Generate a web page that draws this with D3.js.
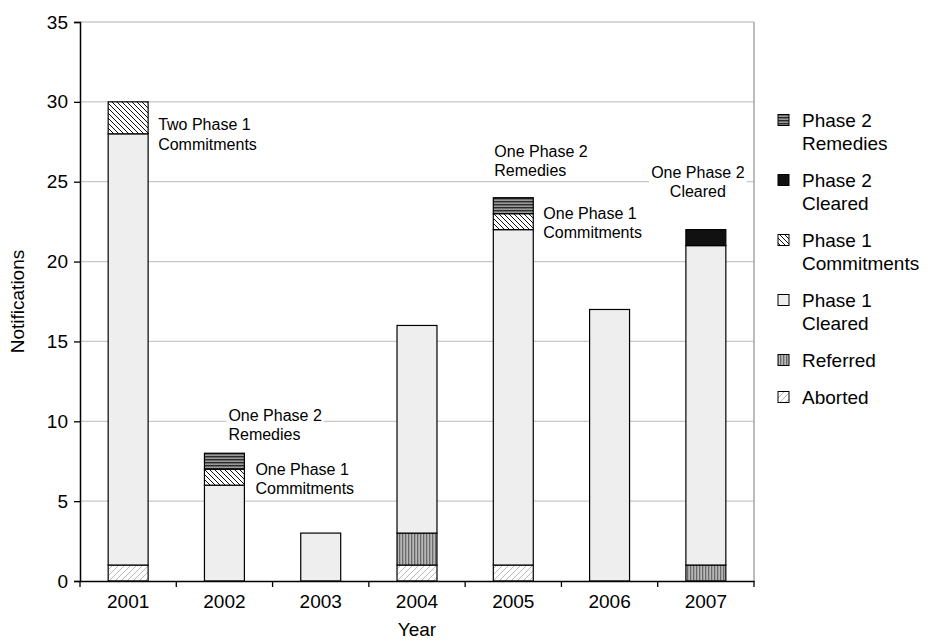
<!DOCTYPE html>
<html><head><meta charset="utf-8">
<script src="https://cdn.jsdelivr.net/npm/d3@7"></script>
<style>
body{margin:0;background:#fff;}
svg{font-family:"Liberation Sans",Arial,Helvetica,sans-serif;}
</style></head>
<body><svg id="c" width="934" height="641"></svg>
<script>
const years = ["2001","2002","2003","2004","2005","2006","2007"];
const aborted    = [1,0,0,1,1,0,0];
const referred   = [0,0,0,2,0,0,1];
const p1Cleared  = [27,6,3,13,21,17,20];
const p1Commit   = [2,1,0,0,1,0,0];
const p2Cleared  = [0,0,0,0,0,0,1];
const p2Remedies = [0,1,0,0,1,0,0];
const seriesNames = ["Aborted","Referred","Phase 1 Cleared","Phase 1 Commitments","Phase 2 Cleared","Phase 2 Remedies"];
const legendNames = [["Phase 2","Remedies"],["Phase 2","Cleared"],["Phase 1","Commitments"],["Phase 1","Cleared"],["Referred"],["Aborted"]];
const yTicks = [0,5,10,15,20,25,30,35];
const annotYears  = ["2001","2002","2002","2005","2005","2007"];
const annotValues = [30,8,7,24,23,22];
const annotLines  = [["Two Phase 1","Commitments"],["One Phase 2","Remedies"],["One Phase 1","Commitments"],
                     ["One Phase 2","Remedies"],["One Phase 1","Commitments"],["One Phase 2","Cleared"]];

const seriesData = [aborted,referred,p1Cleared,p1Commit,p2Cleared,p2Remedies];
const rows = years.map((y,i)=>{const o={year:y}; seriesNames.forEach((s,k)=>o[s]=seriesData[k][i]); return o;});

const svg = d3.select("#c");
const m = {left:80, right:754, top:22, bottom:581};
const x = d3.scaleBand().domain(years).range([m.left,m.right]).padding(0);
const y = d3.scaleLinear().domain([0,35]).range([m.bottom,m.top]);
const barW = x.bandwidth()*0.415;

// patterns
const defs = svg.append("defs");
function pat(id, size, bg, draw){
  const p = defs.append("pattern").attr("id",id).attr("patternUnits","userSpaceOnUse").attr("width",size).attr("height",size);
  p.append("rect").attr("width",size).attr("height",size).attr("fill",bg);
  draw(p);
}
pat("pAborted",6,"#ffffff",p=>{
  p.append("path").attr("d","M-1,7 L7,-1 M-4,4 L4,-4 M2,10 L10,2").attr("stroke","#b0b0b0").attr("stroke-width",0.9);
});
pat("pReferred",3,"#b8b8b8",p=>{
  p.append("rect").attr("x",0).attr("y",0).attr("width",1.3).attr("height",3).attr("fill","#6a6a6a");
});
pat("pCommit",5,"#ffffff",p=>{
  p.append("path").attr("d","M-1,-1 L6,6 M-1,4 L1,6 M4,-1 L6,1").attr("stroke","#111").attr("stroke-width",1);
});
pat("pRemedies",3,"#9a9a9a",p=>{
  p.append("rect").attr("x",0).attr("y",0).attr("width",3).attr("height",1.4).attr("fill","#2a2a2a");
});
const fills = {"Aborted":"url(#pAborted)","Referred":"url(#pReferred)","Phase 1 Cleared":"#eeeeee",
  "Phase 1 Commitments":"url(#pCommit)","Phase 2 Cleared":"#111111","Phase 2 Remedies":"url(#pRemedies)"};

// gridlines
svg.append("g").selectAll("line").data(yTicks.filter(d=>d>0)).join("line")
  .attr("x1",m.left).attr("x2",m.right).attr("y1",d=>y(d)).attr("y2",d=>y(d))
  .attr("stroke","#c8c8c8").attr("stroke-width",1.3);
svg.append("line").attr("x1",m.right).attr("x2",m.right).attr("y1",m.top).attr("y2",m.bottom)
  .attr("stroke","#9a9a9a").attr("stroke-width",1.3);

// bars
const stack = d3.stack().keys(seriesNames)(rows);
const g = svg.append("g");
stack.forEach(layer=>{
  g.selectAll(null).data(layer.filter(d=>d[1]-d[0]>0)).join("rect")
    .attr("x",d=>x(d.data.year)+x.bandwidth()/2-barW/2)
    .attr("width",barW)
    .attr("y",d=>y(d[1])).attr("height",d=>y(d[0])-y(d[1]))
    .attr("fill",fills[layer.key]).attr("stroke","#000").attr("stroke-width",1.2);
});

// axes
const yAxis = svg.append("g").attr("transform",`translate(${m.left},0)`)
  .call(d3.axisLeft(y).tickValues(yTicks).tickSize(6).tickPadding(6));
yAxis.select(".domain").attr("stroke","#000").attr("stroke-width",1.5);
yAxis.selectAll("line").attr("stroke","#000").attr("stroke-width",1.3);
yAxis.selectAll("text").attr("font-size",19).attr("fill","#000");
yAxis.style("font-family",null);

const xAxis = svg.append("g").attr("transform",`translate(0,${m.bottom})`)
  .call(d3.axisBottom(x).tickSize(0).tickPadding(14));
xAxis.select(".domain").attr("stroke","#000").attr("stroke-width",1.5);
xAxis.selectAll("text").attr("font-size",19).attr("fill","#000");
xAxis.style("font-family",null);
const bounds = years.map(d=>x(d)).concat([m.right]);
svg.append("g").selectAll("line").data(bounds).join("line")
  .attr("x1",d=>d).attr("x2",d=>d).attr("y1",m.bottom).attr("y2",m.bottom+6)
  .attr("stroke","#000").attr("stroke-width",1.3);

// axis titles
svg.append("text").attr("x",(m.left+m.right)/2).attr("y",636).attr("text-anchor","middle")
  .attr("font-size",19).text("Year");
svg.append("text").attr("transform",`translate(24,${(m.top+m.bottom)/2}) rotate(-90)`)
  .attr("text-anchor","middle").attr("font-size",19).text("Notifications");

// annotations (pixel offsets from the bar's centre / top of the annotated segment)
const annotDx = [ 30,  4, 31, -19, 30, -8];
const annotDy = [ 23,-38,  0, -46,  0,-57];
const annotAnchor = ["start","start","start","start","start","middle"];
const ag = svg.append("g");
annotYears.forEach((yr,i)=>{
  const cx = x(yr)+x.bandwidth()/2;
  const tx = cx+annotDx[i], ty = y(annotValues[i])+annotDy[i];
  const grp = ag.append("g");
  const t = grp.append("text").attr("x",tx).attr("y",ty).attr("font-size",16).attr("text-anchor",annotAnchor[i]);
  annotLines[i].forEach((l,j)=>t.append("tspan").attr("x",tx).attr("dy",j===0?"0.35em":"1.2em").text(l));
  const bb = t.node().getBBox();
  grp.insert("rect","text").attr("x",bb.x-2).attr("y",bb.y+2).attr("width",bb.width+4).attr("height",bb.height-4).attr("fill","#fff");
});

// legend
const legendFills = ["Phase 2 Remedies","Phase 2 Cleared","Phase 1 Commitments","Phase 1 Cleared","Referred","Aborted"];
let ly = 120;
const lg = svg.append("g");
legendNames.forEach((lines,i)=>{
  lg.append("rect").attr("x",778).attr("y",ly-5.5).attr("width",11).attr("height",11)
    .attr("fill",fills[legendFills[i]]).attr("stroke","#000").attr("stroke-width",1);
  const t = lg.append("text").attr("x",802).attr("y",ly).attr("font-size",19);
  lines.forEach((l,j)=>t.append("tspan").attr("x",802).attr("dy",j===0?"0.35em":"1.22em").text(l));
  ly += lines.length*23 + 14;
});
</script></body></html>
